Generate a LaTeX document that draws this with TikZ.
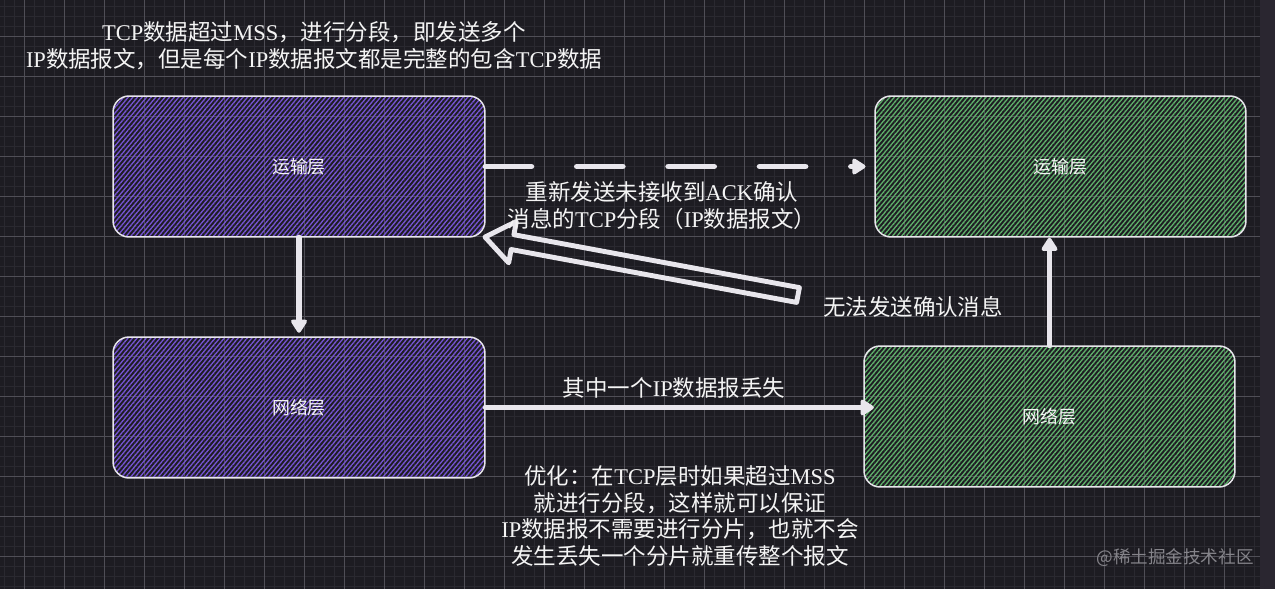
\documentclass[tikz,border=0pt]{standalone}
\usepackage{fontspec}
\setmainfont{Noto Sans CJK SC}
\newfontfamily\enfont{Liberation Serif}
\newcommand{\enw}[1]{{\enfont #1}}
\definecolor{SketchBg}{HTML}{1D1C22}
\definecolor{SketchStrip}{HTML}{2A2630}
\definecolor{SketchGridMinor}{HTML}{2A2930}
\definecolor{SketchGridMajor}{HTML}{4F4E56}
\definecolor{SketchEdge}{HTML}{E8E6EC}
\definecolor{SketchText}{HTML}{F4F4F4}
\definecolor{SketchPurple}{HTML}{7654D4}
\definecolor{SketchGreen}{HTML}{5FB06A}
\definecolor{SketchMark}{HTML}{85848A}
\usetikzlibrary{arrows.meta, positioning, calc, patterns.meta}
\tikzset{
    % Default text
    every node/.style={font=\fontsize{12.8}{15.3}\selectfont, text=SketchText},
    % Layer box, sending side
    sendlayer/.style={
        rectangle,
        rounded corners=0.32cm,
        draw=SketchEdge,
        line width=0.85pt,
        pattern={Lines[angle=50, distance=2pt, line width=0.75pt]},
        pattern color=SketchPurple,
        minimum width=7.44cm,
        minimum height=2.82cm,
        font=\fontsize{10.2}{12}\selectfont
    },
    % Layer box, receiving side
    recvlayer/.style={
        sendlayer,
        pattern color=SketchGreen,
        minimum width=7.42cm
    },
    % Multi-line note
    note/.style={align=center},
    % Arrow style
    flow/.style={
        -{Triangle[round, width=0.36cm, length=0.3cm]},
        line width=3.4pt,
        draw=SketchEdge,
        line cap=round
    },
    % Dashed arrow
    retryflow/.style={flow, dash pattern=on 26pt off 26pt},
    % Hollow block arrow
    resendarrow/.style={
        draw=SketchEdge,
        line width=2.8pt,
        line join=round
    },
    % Background grid
    gridminor/.style={draw=SketchGridMinor, line width=0.5pt},
    gridmajor/.style={draw=SketchGridMajor, line width=0.5pt}
}

\begin{document}
\begin{tikzpicture}[x=0.02cm, y=-0.02cm]
    \useasboundingbox (0,0) rectangle (1275,589);
    \fill[SketchBg] (0,0) rectangle (1260,589);
    \fill[SketchStrip] (1260,0) rectangle (1275,589);
    \foreach \gx in {4,14,...,1254} \draw[gridminor] (\gx,0) -- (\gx,589);
    \foreach \gy in {6,16,...,586} \draw[gridminor] (0,\gy) -- (1260,\gy);
    \foreach \gx in {24,64,...,1224} \draw[gridmajor] (\gx,0) -- (\gx,589);
    \foreach \gy in {36,76,...,556} \draw[gridmajor] (0,\gy) -- (1260,\gy);

    \node (transL) [sendlayer] at (299,166.5) {运输层};
    \node (netL) [sendlayer] at (299,407.5) {网络层};
    \node (transR) [recvlayer] at (1060.5,166.5) {运输层};
    \node (netR) [recvlayer] at (1049.5,416.5) {网络层};

    \draw [retryflow, shorten >=5] (transL.east) -- (transR.west);
    \draw [flow, shorten >=2] (transL.south) -- (netL.north);
    \draw [flow, shorten >=-6] (netL.east) -- (netL.east -| netR.west);
    \draw [flow] (netR.north) -- (netR.north |- transR.south);

    % Hollow arrow back to the sender
    \draw [resendarrow] (799.4,287.6) -- (513.9,234.7) -- (516.3,221.5) -- (485,237)
        -- (508.7,262.8) -- (511.1,249.5) -- (796.6,302.4) -- cycle;

    % Notes
    \node (segnote) [note] at (314,46) {\enw{TCP}数据超过\enw{MSS}，进行分段，即发送多个\\\enw{IP}数据报文，但是每个\enw{IP}数据报文都是完整的包含\enw{TCP}数据};
    \node (resendnote) [note] at (662,206) {重新发送未接收到\enw{ACK}确认\\消息的\enw{TCP}分段（\enw{IP}数据报文）};
    \node (nacknote) at (913,307) {无法发送确认消息};
    \node (lossnote) at (674,388) {其中一个\enw{IP}数据报丢失};
    \node (optnote) [note] at (680,516) {优化：在\enw{TCP}层时如果超过\enw{MSS}\\就进行分段，这样就可以保证\\\enw{IP}数据报不需要进行分片，也就不会\\发生丢失一个分片就重传整个报文};
    \node (mark) [font=\fontsize{10}{12}\selectfont, text=SketchMark] at (1175,558) {@稀土掘金技术社区};
\end{tikzpicture}
\end{document}
